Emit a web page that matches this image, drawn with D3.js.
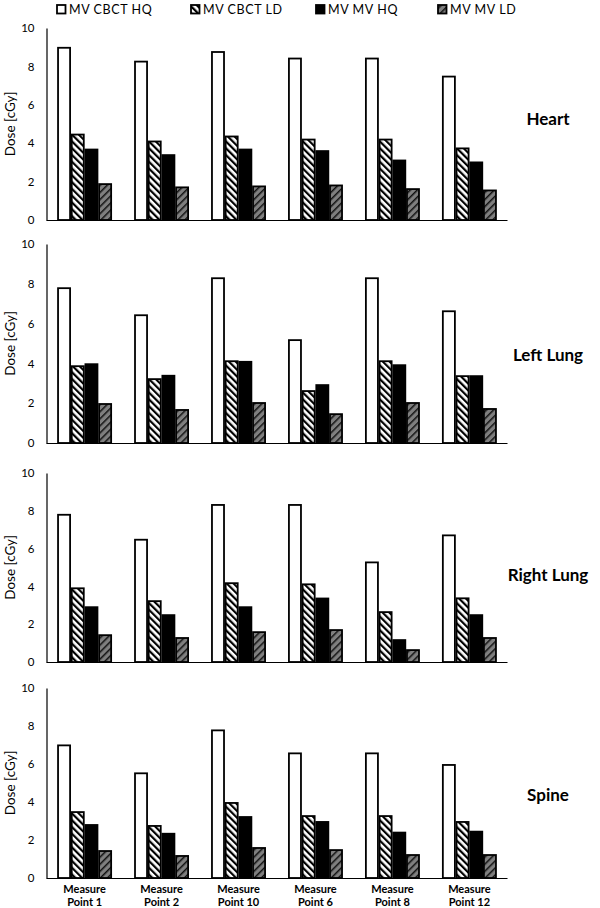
<!DOCTYPE html>
<html>
<head>
<meta charset="utf-8">
<script src="https://cdn.jsdelivr.net/npm/d3@7"></script>
<style>
  body { margin: 0; background: #fff; }
  svg { display: block; }
  text { font-family: Lato, "Open Sans", sans-serif; }
</style>
</head>
<body>
<script>
// ---- DATA ----
const categories = ["Measure Point 1", "Measure Point 2", "Measure Point 10", "Measure Point 6", "Measure Point 8", "Measure Point 12"];
const seriesNames = ["MV CBCT HQ", "MV CBCT LD", "MV MV HQ", "MV MV LD"];
const panelNames = ["Heart", "Left Lung", "Right Lung", "Spine"];
const yTicks = [0, 2, 4, 6, 8, 10];

const heart_CBCT_HQ = [8.97, 8.25, 8.75, 8.41, 8.41, 7.47];
const heart_CBCT_LD = [4.45, 4.09, 4.35, 4.19, 4.19, 3.73];
const heart_MV_HQ   = [3.67, 3.38, 3.67, 3.59, 3.10, 3.00];
const heart_MV_LD   = [1.87, 1.70, 1.75, 1.80, 1.61, 1.54];

const leftLung_CBCT_HQ = [7.78, 6.42, 8.28, 5.17, 8.28, 6.62];
const leftLung_CBCT_LD = [3.86, 3.21, 4.11, 2.61, 4.11, 3.36];
const leftLung_MV_HQ   = [3.96, 3.38, 4.08, 2.91, 3.91, 3.36];
const leftLung_MV_LD   = [1.96, 1.66, 2.01, 1.45, 2.01, 1.71];

const rightLung_CBCT_HQ = [7.79, 6.47, 8.31, 8.31, 5.27, 6.70];
const rightLung_CBCT_LD = [3.90, 3.22, 4.17, 4.11, 2.64, 3.37];
const rightLung_MV_HQ   = [2.90, 2.48, 2.90, 3.36, 1.16, 2.48];
const rightLung_MV_LD   = [1.42, 1.27, 1.58, 1.69, 0.63, 1.27];

const spine_CBCT_HQ = [6.98, 5.51, 7.77, 6.56, 6.56, 5.95];
const spine_CBCT_LD = [3.47, 2.74, 3.95, 3.26, 3.26, 2.95];
const spine_MV_HQ   = [2.79, 2.33, 3.21, 2.95, 2.39, 2.44];
const spine_MV_LD   = [1.42, 1.16, 1.58, 1.47, 1.21, 1.21];

const panelSeries = [
  [heart_CBCT_HQ, heart_CBCT_LD, heart_MV_HQ, heart_MV_LD],
  [leftLung_CBCT_HQ, leftLung_CBCT_LD, leftLung_MV_HQ, leftLung_MV_LD],
  [rightLung_CBCT_HQ, rightLung_CBCT_LD, rightLung_MV_HQ, rightLung_MV_LD],
  [spine_CBCT_HQ, spine_CBCT_LD, spine_MV_HQ, spine_MV_LD]
];

// ---- LAYOUT ----
const W = 600, H = 908;
const axisX = 46.5, axisRight = 507.5;
const panelLayout = [
  { top: 28, bottom: 220, labelY: 125 },
  { top: 244, bottom: 443, labelY: 361 },
  { top: 473, bottom: 662, labelY: 581 },
  { top: 688, bottom: 878, labelY: 801 }
];
const labelX = 548;

const svg = d3.select("body").append("svg").attr("width", W).attr("height", H);
svg.append("rect").attr("width", W).attr("height", H).attr("fill", "#fff");

const defs = svg.append("defs");
// white with black "\" stripes
const p1 = defs.append("pattern").attr("id", "hatchWhite").attr("patternUnits", "userSpaceOnUse")
  .attr("width", 4.8).attr("height", 4.8).attr("patternTransform", "rotate(-45)");
p1.append("rect").attr("width", 4.8).attr("height", 4.8).attr("fill", "#fff");
p1.append("rect").attr("width", 2.2).attr("height", 4.8).attr("fill", "#000");
// gray with black "/" stripes
const p2 = defs.append("pattern").attr("id", "hatchGray").attr("patternUnits", "userSpaceOnUse")
  .attr("width", 5).attr("height", 5).attr("patternTransform", "rotate(45)");
p2.append("rect").attr("width", 5).attr("height", 5).attr("fill", "#7f7f7f");
p2.append("rect").attr("width", 1.5).attr("height", 5).attr("fill", "#111");

const fills = ["#fff", "url(#hatchWhite)", "#000", "url(#hatchGray)"];

const x0 = d3.scaleBand().domain(categories).range([axisX, axisRight]).paddingInner(0.31).paddingOuter(0.15);
const x1 = d3.scaleBand().domain(seriesNames).range([0, x0.bandwidth()]).paddingInner(0.12);

panelLayout.forEach((pl, pi) => {
  const y = d3.scaleLinear().domain([0, 10]).range([pl.bottom, pl.top]);
  const g = svg.append("g");

  // bars
  const groups = g.selectAll("g.cat").data(categories).join("g")
    .attr("transform", d => `translate(${x0(d)},0)`);
  groups.each(function(cat, ci) {
    d3.select(this).selectAll("rect").data(seriesNames).join("rect")
      .attr("x", s => x1(s))
      .attr("y", (s, si) => y(panelSeries[pi][si][ci]))
      .attr("width", x1.bandwidth())
      .attr("height", (s, si) => y(0) - y(panelSeries[pi][si][ci]))
      .attr("fill", (s, si) => fills[si])
      .attr("stroke", "#000")
      .attr("stroke-width", 1.8);
  });

  // y axis
  const yAxis = d3.axisLeft(y).tickValues(yTicks).tickSize(0).tickPadding(12).tickFormat(d3.format("d"));
  const ya = g.append("g").attr("transform", `translate(${axisX},0)`).call(yAxis);
  ya.select(".domain").attr("stroke", "#000").attr("stroke-width", 1.2);
  ya.selectAll("text").attr("font-size", 11.5).attr("fill", "#000").attr("font-family", "Lato, sans-serif");

  // x axis line
  g.append("line").attr("x1", axisX).attr("x2", axisRight)
    .attr("y1", pl.bottom + 0.5).attr("y2", pl.bottom + 0.5)
    .attr("stroke", "#000").attr("stroke-width", 1.2);

  // y label
  g.append("text")
    .attr("transform", `translate(15,${(pl.top + pl.bottom) / 2}) rotate(-90)`)
    .attr("text-anchor", "middle")
    .attr("font-size", 13.5).attr("fill", "#000")
    .text("Dose [cGy]");

  // panel name
  g.append("text").attr("x", labelX).attr("y", pl.labelY)
    .attr("text-anchor", "middle").attr("font-weight", "bold").attr("font-size", 17)
    .attr("fill", "#000").text(panelNames[pi]);
});

// x category labels (bottom panel)
const lastBottom = panelLayout[3].bottom;
const xl = svg.append("g");
categories.forEach(c => {
  const words = c.split(" ");
  const t = xl.append("text").attr("text-anchor", "middle").attr("font-weight", "bold")
    .attr("font-size", 11).attr("fill", "#000");
  t.append("tspan").attr("x", x0(c) + x0.bandwidth() / 2).attr("y", lastBottom + 15).text(words[0]);
  t.append("tspan").attr("x", x0(c) + x0.bandwidth() / 2).attr("y", lastBottom + 28).text(words.slice(1).join(" "));
});

// legend
const legendX = [57, 191, 316, 438];
const leg = svg.append("g");
seriesNames.forEach((s, i) => {
  leg.append("rect").attr("x", legendX[i]).attr("y", 5).attr("width", 8.5).attr("height", 8.5)
    .attr("fill", fills[i]).attr("stroke", "#000").attr("stroke-width", 1.8);
  leg.append("text").attr("x", legendX[i] + 12).attr("y", 14).attr("font-size", 12.5)
    .attr("letter-spacing", 0.6)
    .attr("fill", "#000").text(s);
});
</script>
</body>
</html>
